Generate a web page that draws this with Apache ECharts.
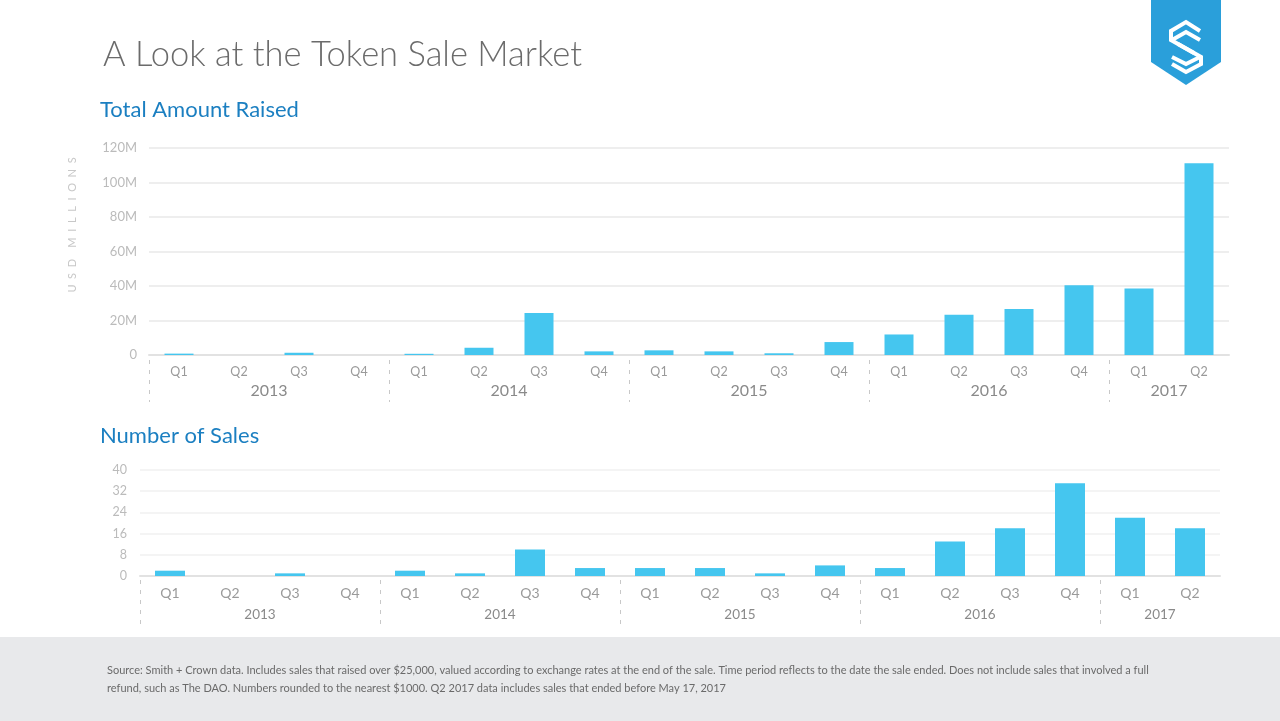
<!DOCTYPE html>
<html>
<head>
<meta charset="utf-8">
<script src="https://cdn.jsdelivr.net/npm/echarts@6/dist/echarts.min.js"></script>
<style>
html,body{margin:0;padding:0;background:#fff;}
#chart{width:1280px;height:721px;}
</style>
</head>
<body>
<div id="chart"></div>
<script>
const quarters = ['Q1','Q2','Q3','Q4','Q1','Q2','Q3','Q4','Q1','Q2','Q3','Q4','Q1','Q2','Q3','Q4','Q1','Q2'];
const years = ['2013','2014','2015','2016','2017'];
const quartersPerYear = [4,4,4,4,2];
const amountRaised = [0.8,0,1.3,0,0.7,4.2,24.4,2.1,2.7,2.1,1.0,7.5,11.9,23.3,26.7,40.4,38.5,111.2];
const numberOfSales = [2,0,1,0,2,1,10,3,3,3,1,4,3,13,18,35,22,18];
const amountTicks = [0,20,40,60,80,100,120];
const salesTicks = [0,8,16,24,32,40];

const FONT = 'Lato, "Open Sans", sans-serif';
const BAR = '#45c6ef';

// year group boundaries and centres
const yearStarts = [], yearCenters = [];
let acc = 0;
quartersPerYear.forEach(n => { yearStarts.push(acc); yearCenters.push(acc + n / 2); acc += n; });
const yearLabel = v => { const i = yearCenters.indexOf(v); return i >= 0 ? years[i] : ''; };

function yearAxis(gridIndex, offset, tickLen, margin, fontSize) {
  return {
    type: 'value', gridIndex, min: 0, max: quarters.length, position: 'bottom', offset,
    axisLine: { show: false }, splitLine: { show: false },
    axisTick: { show: true, customValues: yearStarts, length: tickLen, lineStyle: { color: '#c8c8c8', width: 1, type: [4, 6] } },
    axisLabel: { customValues: yearCenters, formatter: yearLabel, margin, fontSize, color: '#8a8a8a', fontFamily: FONT }
  };
}

const chart = echarts.init(document.getElementById('chart'));
chart.setOption({
  backgroundColor: '#ffffff',
  animation: false,
  grid: [
    { left: 149, width: 1080, top: 148, height: 207 },
    { left: 140, width: 1080, top: 470, height: 106 }
  ],
  xAxis: [
    { type: 'category', gridIndex: 0, data: quarters, position: 'bottom',
      axisLine: { lineStyle: { color: '#e2e2e2', width: 2 } }, axisTick: { show: false },
      axisLabel: { color: '#9a9a9a', fontSize: 12.5, margin: 10, fontFamily: FONT, interval: 0 } },
    yearAxis(0, 5, 42, 23, 16),
    { type: 'category', gridIndex: 1, data: quarters, position: 'bottom',
      axisLine: { lineStyle: { color: '#e2e2e2', width: 2 } }, axisTick: { show: false },
      axisLabel: { color: '#9a9a9a', fontSize: 14, margin: 10, fontFamily: FONT, interval: 0 } },
    yearAxis(1, 4, 46, 28, 13.5)
  ],
  yAxis: [
    { type: 'value', gridIndex: 0, min: amountTicks[0], max: amountTicks[amountTicks.length - 1], interval: 20,
      axisLine: { show: false }, axisTick: { show: false },
      splitLine: { lineStyle: { color: '#e8e8e8', width: 1.5 } },
      axisLabel: { color: '#bbbbbb', fontSize: 13, margin: 12, fontFamily: FONT, formatter: v => v === 0 ? '0' : v + 'M' } },
    { type: 'value', gridIndex: 1, min: salesTicks[0], max: salesTicks[salesTicks.length - 1], interval: 8,
      axisLine: { show: false }, axisTick: { show: false },
      splitLine: { lineStyle: { color: '#f1f1f1', width: 1.5 } },
      axisLabel: { color: '#bbbbbb', fontSize: 12.5, margin: 13, fontFamily: FONT } }
  ],
  series: [
    { type: 'bar', xAxisIndex: 0, yAxisIndex: 0, data: amountRaised, barWidth: 29, itemStyle: { color: BAR } },
    { type: 'bar', xAxisIndex: 2, yAxisIndex: 1, data: numberOfSales, barWidth: 30, itemStyle: { color: BAR } }
  ],
  graphic: [
    { type: 'text', left: 103, top: 37, style: { text: 'A Look at the Token Sale Market', fill: '#6b6b6b', font: '300 34.5px ' + FONT } },
    { type: 'text', left: 100, top: 99, style: { text: 'Total Amount Raised', fill: '#1b7fc1', font: '400 22px ' + FONT } },
    { type: 'text', left: 100, top: 425, style: { text: 'Number of Sales', fill: '#1b7fc1', font: '400 22px ' + FONT } },
    { type: 'text', x: 72, y: 225, rotation: Math.PI / 2,
      style: { text: 'U  S  D    M  I  L  L  I  O  N  S', fill: '#c8c8c8', font: '400 11px ' + FONT, align: 'center', verticalAlign: 'middle' } },
    { type: 'rect', shape: { x: 0, y: 637, width: 1280, height: 84 }, style: { fill: '#e8e9eb' }, z: -1 },
    { type: 'text', left: 107, top: 665, style: { text: 'Source: Smith + Crown data. Includes sales that raised over $25,000, valued according to exchange rates at the end of the sale. Time period reflects to the date the sale ended. Does not include sales that involved a full', fill: '#6a6a6a', font: '400 11px ' + FONT } },
    { type: 'text', left: 107, top: 683, style: { text: 'refund, such as The DAO. Numbers rounded to the nearest $1000. Q2 2017 data includes sales that ended before May 17, 2017', fill: '#6a6a6a', font: '400 11px ' + FONT } },
    { type: 'polygon', shape: { points: [[1151,0],[1221,0],[1221,62],[1186,85],[1151,62]] }, style: { fill: '#2a9fda' } },
    { type: 'polyline', shape: { points: [[1200,31],[1186,22],[1171,31],[1171,40],[1194,53]] }, style: { stroke: '#fff', lineWidth: 4, fill: null, lineJoin: 'miter' } },
    { type: 'polyline', shape: { points: [[1172,40],[1186,32],[1200,40]] }, style: { stroke: '#fff', lineWidth: 4, fill: null } },
    { type: 'polyline', shape: { points: [[1178,44],[1201,57],[1201,64],[1186,72],[1172,64]] }, style: { stroke: '#fff', lineWidth: 4, fill: null, lineJoin: 'miter' } },
    { type: 'polyline', shape: { points: [[1172,57],[1186,64],[1200,57]] }, style: { stroke: '#fff', lineWidth: 4, fill: null } }
  ]
});
</script>
</body>
</html>
